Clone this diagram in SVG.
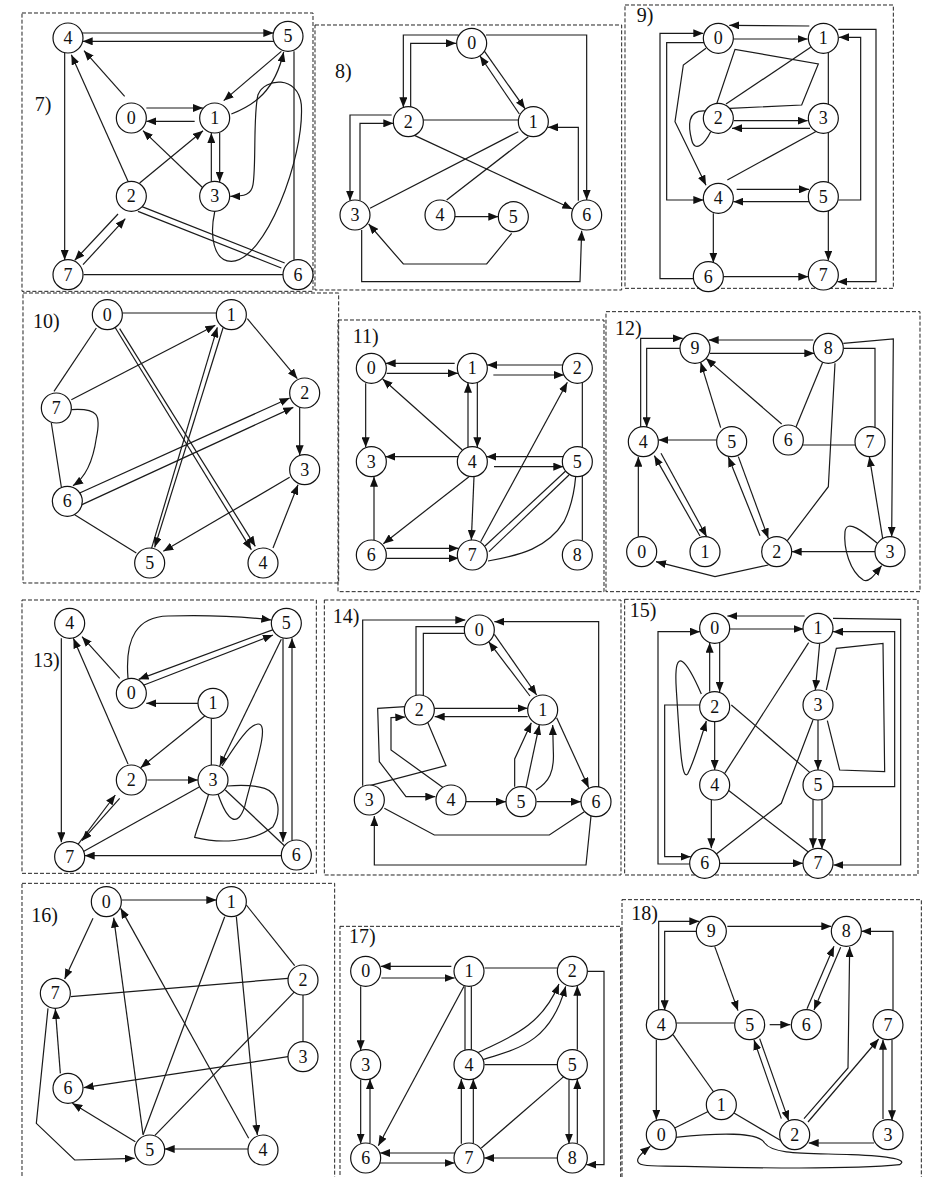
<svg xmlns="http://www.w3.org/2000/svg" width="928" height="1177" viewBox="0 0 928 1177">
<defs>
<marker id="ah" markerUnits="userSpaceOnUse" markerWidth="30" markerHeight="24" refX="30" refY="12" orient="auto" viewBox="0 0 30 24"><path d="M0,0 L30,12 L0,24 z" fill="#111"/></marker>
<style>
.e{fill:none;stroke:#1a1a1a;stroke-width:3.6}
.a{marker-end:url(#ah)}
.node circle{fill:#fff;stroke:#111;stroke-width:3.6}
.node text{font-family:"Liberation Serif","Times New Roman",serif;font-size:54px;text-anchor:middle;fill:#111}
.lbl{font-family:"Liberation Serif","Times New Roman",serif;font-size:60px;text-anchor:middle;fill:#111}
.frame{fill:none;stroke:#222;stroke-width:3;stroke-dasharray:12 6}
</style>
</defs>
<rect width="928" height="1177" fill="#fff"/>

<!-- Panel 7 -->
<g id="panel-7" transform="translate(18,8) scale(0.333333)">
<rect class="frame" x="12" y="15" width="873" height="835"/>
<text class="lbl" x="75" y="310">7)</text>
<g id="p7-edges">
<path class="e a" d="M192,75 L766,75"/>
<path class="e a" d="M768,100 L194,100"/>
<path class="e a" d="M140,134 L140,756"/>
<path class="e a" d="M320,265 L198,128"/>
<path class="e a" d="M330,520 L160,140"/>
<path class="e a" d="M790,130 L617,278"/>
<path class="e a" d="M640,318 C710,290 770,250 797,132"/>
<path class="e a" d="M590,612 C575,680 585,760 640,760 C740,760 860,450 850,290 C840,200 740,210 720,260 C705,320 715,470 705,530 C700,560 680,565 637,565"/>
<path class="e a" d="M385,300 L555,300"/>
<path class="e a" d="M530,340 L385,340"/>
<path class="e a" d="M580,520 L580,375"/>
<path class="e a" d="M605,375 L605,522"/>
<path class="e a" d="M555,540 L375,368"/>
<path class="e a" d="M365,525 L555,368"/>
<path class="e a" d="M195,770 L322,632"/>
<path class="e a" d="M300,618 L170,757"/>
<path class="e" d="M370,595 L800,765"/>
<path class="e" d="M360,610 L790,780"/>
<path class="e" d="M197,800 L795,800"/>
<path class="e" d="M828,130 L828,755"/>
</g>
<g id="p7-n4" class="node"><circle cx="150" cy="90" r="45"/><text x="150" y="108">4</text></g>
<g id="p7-n5" class="node"><circle cx="810" cy="85" r="45"/><text x="810" y="103">5</text></g>
<g id="p7-n0" class="node"><circle cx="340" cy="330" r="45"/><text x="340" y="348">0</text></g>
<g id="p7-n1" class="node"><circle cx="590" cy="330" r="45"/><text x="590" y="348">1</text></g>
<g id="p7-n2" class="node"><circle cx="340" cy="565" r="45"/><text x="340" y="583">2</text></g>
<g id="p7-n3" class="node"><circle cx="590" cy="565" r="45"/><text x="590" y="583">3</text></g>
<g id="p7-n7" class="node"><circle cx="150" cy="800" r="45"/><text x="150" y="818">7</text></g>
<g id="p7-n6" class="node"><circle cx="840" cy="800" r="45"/><text x="840" y="818">6</text></g>
</g>

<!-- Panel 8 -->
<g id="panel-8" transform="translate(310,20) scale(0.333333)">
<rect class="frame" x="15" y="15" width="920" height="795"/>
<text class="lbl" x="100" y="175">8)</text>
<g id="p8-edges">
<path class="e a" d="M302,262 L302,70 L438,70"/>
<path class="e a" d="M445,45 L280,45 L280,262"/>
<path class="e a" d="M522,92 L645,266"/>
<path class="e a" d="M628,282 L510,108"/>
<path class="e a" d="M528,45 L830,45 L830,540"/>
<path class="e a" d="M805,542 L805,322 L714,322"/>
<path class="e" d="M340,300 L625,300"/>
<path class="e a" d="M315,347 L787,567"/>
<path class="e" d="M180,565 L625,335"/>
<path class="e" d="M410,540 L655,350"/>
<path class="e a" d="M435,590 L565,590"/>
<path class="e a" d="M605,640 L530,732 L280,732 L176,612"/>
<path class="e a" d="M155,630 L155,785 L810,785 L815,632"/>
<path class="e a" d="M245,285 L120,285 L120,542"/>
<path class="e a" d="M150,542 L150,310 L250,310"/>
</g>
<g id="p8-n0" class="node"><circle cx="485" cy="70" r="45"/><text x="485" y="88">0</text></g>
<g id="p8-n2" class="node"><circle cx="295" cy="305" r="45"/><text x="295" y="323">2</text></g>
<g id="p8-n1" class="node"><circle cx="670" cy="305" r="45"/><text x="670" y="323">1</text></g>
<g id="p8-n3" class="node"><circle cx="135" cy="585" r="45"/><text x="135" y="603">3</text></g>
<g id="p8-n4" class="node"><circle cx="390" cy="585" r="45"/><text x="390" y="603">4</text></g>
<g id="p8-n5" class="node"><circle cx="610" cy="590" r="45"/><text x="610" y="608">5</text></g>
<g id="p8-n6" class="node"><circle cx="830" cy="585" r="45"/><text x="830" y="603">6</text></g>
</g>

<!-- Panel 9 -->
<g id="panel-9" transform="translate(620,0) scale(0.333333)">
<rect class="frame" x="15" y="15" width="805" height="850"/>
<text class="lbl" x="75" y="65">9)</text>
<g id="p9-edges">
<path class="e a" d="M568,78 L328,76"/>
<path class="e a" d="M340,117 L563,117"/>
<path class="e a" d="M222,836 L120,836 L120,100 L250,100"/>
<path class="e a" d="M252,128 L140,128 L140,600 L250,600"/>
<path class="e a" d="M258,145 L190,195 L165,365 L258,556"/>
<path class="e a" d="M655,88 L768,88 L768,845 L652,845"/>
<path class="e a" d="M655,600 L722,600 L722,112 L657,112"/>
<path class="e" d="M625,158 L625,312"/>
<path class="e" d="M625,398 L625,546"/>
<path class="e" d="M572,142 L318,312"/>
<path class="e" d="M290,312 L345,148 L595,192 L545,315 L330,325"/>
<path class="e" d="M255,333 C200,330 205,380 215,420 C225,460 255,430 272,395"/>
<path class="e a" d="M342,362 L563,362"/>
<path class="e a" d="M570,385 L336,385"/>
<path class="e" d="M592,392 L322,540"/>
<path class="e a" d="M350,568 L567,568"/>
<path class="e a" d="M568,605 L340,605"/>
<path class="e a" d="M280,640 L280,788"/>
<path class="e a" d="M625,633 L625,782"/>
<path class="e a" d="M310,830 L565,830"/>
</g>
<g id="p9-n0" class="node"><circle cx="295" cy="115" r="45"/><text x="295" y="133">0</text></g>
<g id="p9-n1" class="node"><circle cx="610" cy="115" r="45"/><text x="610" y="133">1</text></g>
<g id="p9-n2" class="node"><circle cx="295" cy="355" r="45"/><text x="295" y="373">2</text></g>
<g id="p9-n3" class="node"><circle cx="610" cy="355" r="45"/><text x="610" y="373">3</text></g>
<g id="p9-n4" class="node"><circle cx="295" cy="595" r="45"/><text x="295" y="613">4</text></g>
<g id="p9-n5" class="node"><circle cx="610" cy="590" r="45"/><text x="610" y="608">5</text></g>
<g id="p9-n6" class="node"><circle cx="265" cy="830" r="45"/><text x="265" y="848">6</text></g>
<g id="p9-n7" class="node"><circle cx="610" cy="825" r="45"/><text x="610" y="843">7</text></g>
</g>

<!-- Panel 10 -->
<g id="panel-10" transform="translate(18,288) scale(0.333333)">
<rect class="frame" x="15" y="15" width="947" height="870"/>
<text class="lbl" x="85" y="120">10)</text>
<g id="p10-edges">
<path class="e" d="M313,75 L595,75"/>
<path class="e a" d="M688,92 L838,272"/>
<path class="e a" d="M845,358 L845,502"/>
<path class="e a" d="M765,780 L840,590"/>
<path class="e a" d="M815,568 L436,790"/>
<path class="e a" d="M285,108 L700,785"/>
<path class="e a" d="M305,122 L712,775"/>
<path class="e a" d="M398,790 L598,118"/>
<path class="e a" d="M615,120 L410,778"/>
<path class="e a" d="M160,335 L592,112"/>
<path class="e a" d="M185,615 L815,330"/>
<path class="e a" d="M192,650 L826,358"/>
<path class="e" d="M108,310 L235,120"/>
<path class="e" d="M100,405 L130,597"/>
<path class="e a" d="M160,365 C240,360 250,380 235,450 C225,520 200,570 165,593"/>
<path class="e" d="M170,680 L355,795"/>
</g>
<g id="p10-n0" class="node"><circle cx="268" cy="80" r="45"/><text x="268" y="98">0</text></g>
<g id="p10-n1" class="node"><circle cx="640" cy="80" r="45"/><text x="640" y="98">1</text></g>
<g id="p10-n2" class="node"><circle cx="860" cy="315" r="45"/><text x="860" y="333">2</text></g>
<g id="p10-n3" class="node"><circle cx="860" cy="545" r="45"/><text x="860" y="563">3</text></g>
<g id="p10-n4" class="node"><circle cx="735" cy="825" r="45"/><text x="735" y="843">4</text></g>
<g id="p10-n5" class="node"><circle cx="395" cy="825" r="45"/><text x="395" y="843">5</text></g>
<g id="p10-n6" class="node"><circle cx="148" cy="640" r="45"/><text x="148" y="658">6</text></g>
<g id="p10-n7" class="node"><circle cx="115" cy="360" r="45"/><text x="115" y="378">7</text></g>
</g>

<!-- Panel 11 -->
<g id="panel-11" transform="translate(334,315) scale(0.333333)">
<rect class="frame" x="12" y="15" width="798" height="815"/>
<text class="lbl" x="95" y="85">11)</text>
<g id="p11-edges">
<path class="e a" d="M362,145 L155,145"/>
<path class="e a" d="M158,175 L372,175"/>
<path class="e a" d="M688,150 L459,150"/>
<path class="e a" d="M478,180 L690,180"/>
<path class="e a" d="M95,205 L95,397"/>
<path class="e a" d="M385,405 L146,192"/>
<path class="e a" d="M402,396 L402,203"/>
<path class="e a" d="M430,203 L430,397"/>
<path class="e a" d="M372,425 L154,425"/>
<path class="e a" d="M688,425 L457,425"/>
<path class="e a" d="M480,455 L688,455"/>
<path class="e" d="M745,203 L745,397"/>
<path class="e" d="M745,483 L745,677"/>
<path class="e a" d="M405,485 L148,686"/>
<path class="e a" d="M420,485 L412,675"/>
<path class="e a" d="M120,675 L120,485"/>
<path class="e a" d="M157,700 L374,700"/>
<path class="e a" d="M157,730 L374,730"/>
<path class="e a" d="M440,680 L700,202"/>
<path class="e" d="M453,693 L695,468"/>
<path class="e" d="M465,710 L705,480"/>
<path class="e" d="M462,738 C560,720 640,700 690,620 C715,570 722,520 725,485"/>
</g>
<g id="p11-n0" class="node"><circle cx="112" cy="160" r="45"/><text x="112" y="178">0</text></g>
<g id="p11-n1" class="node"><circle cx="415" cy="160" r="45"/><text x="415" y="178">1</text></g>
<g id="p11-n2" class="node"><circle cx="730" cy="160" r="45"/><text x="730" y="178">2</text></g>
<g id="p11-n3" class="node"><circle cx="112" cy="440" r="45"/><text x="112" y="458">3</text></g>
<g id="p11-n4" class="node"><circle cx="415" cy="440" r="45"/><text x="415" y="458">4</text></g>
<g id="p11-n5" class="node"><circle cx="730" cy="440" r="45"/><text x="730" y="458">5</text></g>
<g id="p11-n6" class="node"><circle cx="112" cy="720" r="45"/><text x="112" y="738">6</text></g>
<g id="p11-n7" class="node"><circle cx="415" cy="720" r="45"/><text x="415" y="738">7</text></g>
<g id="p11-n8" class="node"><circle cx="730" cy="720" r="45"/><text x="730" y="738">8</text></g>
</g>

<!-- Panel 12 -->
<g id="panel-12" transform="translate(600,305) scale(0.333333)">
<rect class="frame" x="18" y="20" width="942" height="840"/>
<text class="lbl" x="85" y="90">12)</text>
<g id="p12-edges">
<path class="e a" d="M640,105 L326,105"/>
<path class="e a" d="M330,145 L643,145"/>
<path class="e a" d="M122,367 L122,100 L248,100"/>
<path class="e a" d="M243,130 L140,130 L140,367"/>
<path class="e a" d="M362,368 L302,172"/>
<path class="e a" d="M545,357 L318,160"/>
<path class="e" d="M668,172 L588,366"/>
<path class="e a" d="M730,115 L880,102 L875,695"/>
<path class="e" d="M732,130 L825,130 L825,367"/>
<path class="e" d="M705,175 L685,545 L562,707"/>
<path class="e a" d="M350,405 L175,405"/>
<path class="e" d="M608,420 L766,420"/>
<path class="e a" d="M115,695 L115,455"/>
<path class="e a" d="M300,693 L163,452"/>
<path class="e a" d="M183,445 L320,695"/>
<path class="e a" d="M480,692 L385,456"/>
<path class="e a" d="M415,455 L505,700"/>
<path class="e a" d="M825,740 L575,740"/>
<path class="e a" d="M848,700 L808,455"/>
<path class="e a" d="M505,780 L345,815 L168,770"/>
<path class="e a" d="M832,715 C790,680 740,640 735,680 C730,730 750,800 790,825 C810,835 830,800 845,782"/>
</g>
<g id="p12-n9" class="node"><circle cx="285" cy="130" r="45"/><text x="285" y="148">9</text></g>
<g id="p12-n8" class="node"><circle cx="685" cy="130" r="45"/><text x="685" y="148">8</text></g>
<g id="p12-n4" class="node"><circle cx="130" cy="410" r="45"/><text x="130" y="428">4</text></g>
<g id="p12-n5" class="node"><circle cx="395" cy="410" r="45"/><text x="395" y="428">5</text></g>
<g id="p12-n6" class="node"><circle cx="565" cy="405" r="45"/><text x="565" y="423">6</text></g>
<g id="p12-n7" class="node"><circle cx="810" cy="410" r="45"/><text x="810" y="428">7</text></g>
<g id="p12-n0" class="node"><circle cx="125" cy="740" r="45"/><text x="125" y="758">0</text></g>
<g id="p12-n1" class="node"><circle cx="315" cy="740" r="45"/><text x="315" y="758">1</text></g>
<g id="p12-n2" class="node"><circle cx="530" cy="740" r="45"/><text x="530" y="758">2</text></g>
<g id="p12-n3" class="node"><circle cx="870" cy="740" r="45"/><text x="870" y="758">3</text></g>
</g>

<!-- Panel 13 -->
<g id="panel-13" transform="translate(18,590) scale(0.333333)">
<rect class="frame" x="12" y="30" width="883" height="820"/>
<text class="lbl" x="85" y="230">13)</text>
<g id="p13-edges">
<path class="e a" d="M130,145 L130,757"/>
<path class="e a" d="M305,265 L192,140"/>
<path class="e a" d="M330,522 L166,145"/>
<path class="e a" d="M330,265 C320,140 360,80 450,78 C560,75 680,80 760,90"/>
<path class="e a" d="M768,118 L362,268"/>
<path class="e a" d="M378,285 L765,135"/>
<path class="e a" d="M540,340 L385,340"/>
<path class="e a" d="M560,378 L368,533"/>
<path class="e" d="M580,385 L580,525"/>
<path class="e a" d="M388,570 L540,570"/>
<path class="e a" d="M790,148 L605,528"/>
<path class="e a" d="M795,145 L795,755"/>
<path class="e a" d="M822,752 L822,145"/>
<path class="e a" d="M790,797 L200,797"/>
<path class="e" d="M545,590 L195,785"/>
<path class="e" d="M622,600 L800,768"/>
<path class="e a" d="M175,770 L292,615"/>
<path class="e a" d="M305,625 L192,752"/>
<path class="e" d="M600,612 C630,700 660,710 680,650 C700,560 760,400 720,402 C690,405 650,470 612,528"/>
<path class="e" d="M572,612 C555,670 535,720 530,742 C600,760 700,760 765,710 C790,670 785,610 740,595 C700,583 660,585 628,588"/>
</g>
<g id="p13-n4" class="node"><circle cx="155" cy="100" r="45"/><text x="155" y="118">4</text></g>
<g id="p13-n5" class="node"><circle cx="805" cy="100" r="45"/><text x="805" y="118">5</text></g>
<g id="p13-n0" class="node"><circle cx="340" cy="310" r="45"/><text x="340" y="328">0</text></g>
<g id="p13-n1" class="node"><circle cx="585" cy="340" r="45"/><text x="585" y="358">1</text></g>
<g id="p13-n2" class="node"><circle cx="340" cy="570" r="45"/><text x="340" y="588">2</text></g>
<g id="p13-n3" class="node"><circle cx="585" cy="570" r="45"/><text x="585" y="588">3</text></g>
<g id="p13-n7" class="node"><circle cx="155" cy="800" r="45"/><text x="155" y="818">7</text></g>
<g id="p13-n6" class="node"><circle cx="835" cy="795" r="45"/><text x="835" y="813">6</text></g>
</g>

<!-- Panel 14 -->
<g id="panel-14" transform="translate(316,595) scale(0.333333)">
<rect class="frame" x="25" y="15" width="890" height="825"/>
<text class="lbl" x="90" y="85">14)</text>
<g id="p14-edges">
<path class="e a" d="M140,572 L140,75 L448,75"/>
<path class="e a" d="M848,576 L848,80 L535,80"/>
<path class="e" d="M300,302 L300,95 L447,95"/>
<path class="e" d="M322,302 L322,115 L450,115"/>
<path class="e a" d="M535,118 L662,300"/>
<path class="e a" d="M642,303 L518,140"/>
<path class="e a" d="M355,340 L635,340"/>
<path class="e a" d="M635,365 L356,365"/>
<path class="e a" d="M722,368 L818,578"/>
<path class="e a" d="M596,575 L596,492 L646,383"/>
<path class="e a" d="M630,577 L670,390"/>
<path class="e a" d="M660,585 C700,560 715,530 712,470 L710,390"/>
<path class="e a" d="M450,620 L570,620"/>
<path class="e a" d="M662,620 L795,620"/>
<path class="e a" d="M268,335 L185,340 L190,500 L270,605 L358,605"/>
<path class="e a" d="M382,578 L225,465 L225,368 L268,366"/>
<path class="e" d="M335,382 L390,512 L150,575"/>
<path class="e" d="M205,640 L355,720 L700,720 L805,650"/>
<path class="e a" d="M825,663 L810,810 L175,810 L175,663"/>
</g>
<g id="p14-n0" class="node"><circle cx="490" cy="105" r="45"/><text x="490" y="123">0</text></g>
<g id="p14-n2" class="node"><circle cx="310" cy="345" r="45"/><text x="310" y="363">2</text></g>
<g id="p14-n1" class="node"><circle cx="680" cy="345" r="45"/><text x="680" y="363">1</text></g>
<g id="p14-n3" class="node"><circle cx="160" cy="615" r="45"/><text x="160" y="633">3</text></g>
<g id="p14-n4" class="node"><circle cx="405" cy="615" r="45"/><text x="405" y="633">4</text></g>
<g id="p14-n5" class="node"><circle cx="615" cy="620" r="45"/><text x="615" y="638">5</text></g>
<g id="p14-n6" class="node"><circle cx="840" cy="620" r="45"/><text x="840" y="638">6</text></g>
</g>

<!-- Panel 15 -->
<g id="panel-15" transform="translate(618,590) scale(0.333333)">
<rect class="frame" x="20" y="28" width="880" height="827"/>
<text class="lbl" x="75" y="80">15)</text>
<g id="p15-edges">
<path class="e a" d="M560,78 L328,78"/>
<path class="e a" d="M335,117 L557,117"/>
<path class="e a" d="M215,822 L120,822 L120,125 L246,125"/>
<path class="e a" d="M245,345 L140,345 L140,800 L218,800"/>
<path class="e a" d="M275,305 L275,158"/>
<path class="e a" d="M305,158 L305,306"/>
<path class="e a" d="M250,312 C210,220 165,150 175,300 C185,450 190,580 210,550 C230,510 250,440 265,393"/>
<path class="e a" d="M290,395 L290,540"/>
<path class="e" d="M340,345 L575,547"/>
<path class="e" d="M572,158 L320,550"/>
<path class="e a" d="M605,160 L592,300"/>
<path class="e a" d="M645,85 L848,88 L848,825 L646,825"/>
<path class="e a" d="M645,590 L830,590 L830,125 L645,125"/>
<path class="e" d="M625,300 L655,175 L795,160 L800,545 L665,540 L628,392"/>
<path class="e a" d="M600,390 L600,540"/>
<path class="e" d="M585,390 L490,640 L295,792"/>
<path class="e a" d="M280,630 L280,775"/>
<path class="e" d="M330,600 L572,787"/>
<path class="e a" d="M585,628 L585,775"/>
<path class="e a" d="M612,628 L612,777"/>
<path class="e a" d="M305,820 L555,820"/>
</g>
<g id="p15-n0" class="node"><circle cx="290" cy="115" r="45"/><text x="290" y="133">0</text></g>
<g id="p15-n1" class="node"><circle cx="600" cy="115" r="45"/><text x="600" y="133">1</text></g>
<g id="p15-n2" class="node"><circle cx="290" cy="350" r="45"/><text x="290" y="368">2</text></g>
<g id="p15-n3" class="node"><circle cx="600" cy="345" r="45"/><text x="600" y="363">3</text></g>
<g id="p15-n4" class="node"><circle cx="290" cy="585" r="45"/><text x="290" y="603">4</text></g>
<g id="p15-n5" class="node"><circle cx="600" cy="585" r="45"/><text x="600" y="603">5</text></g>
<g id="p15-n6" class="node"><circle cx="260" cy="820" r="45"/><text x="260" y="838">6</text></g>
<g id="p15-n7" class="node"><circle cx="600" cy="820" r="45"/><text x="600" y="838">7</text></g>
</g>

<!-- Panel 16 -->
<g id="panel-16" transform="translate(18,875) scale(0.333333)">
<rect class="frame" x="12" y="25" width="938" height="905"/>
<text class="lbl" x="80" y="140">16)</text>
<g id="p16-edges">
<path class="e a" d="M312,75 L595,75"/>
<path class="e a" d="M225,130 L140,312"/>
<path class="e" d="M685,90 L830,272"/>
<path class="e" d="M855,360 L855,500"/>
<path class="e" d="M158,365 L810,310"/>
<path class="e a" d="M655,125 L718,780"/>
<path class="e" d="M620,125 L375,780"/>
<path class="e" d="M830,350 L410,782"/>
<path class="e a" d="M810,545 L197,638"/>
<path class="e a" d="M375,778 L287,128"/>
<path class="e a" d="M692,790 L308,100"/>
<path class="e a" d="M127,595 L112,402"/>
<path class="e a" d="M352,800 L163,685"/>
<path class="e a" d="M690,822 L440,822"/>
<path class="e a" d="M90,400 L55,745 L170,855 L350,850"/>
</g>
<g id="p16-n0" class="node"><circle cx="265" cy="80" r="45"/><text x="265" y="98">0</text></g>
<g id="p16-n1" class="node"><circle cx="640" cy="80" r="45"/><text x="640" y="98">1</text></g>
<g id="p16-n2" class="node"><circle cx="855" cy="315" r="45"/><text x="855" y="333">2</text></g>
<g id="p16-n3" class="node"><circle cx="855" cy="545" r="45"/><text x="855" y="563">3</text></g>
<g id="p16-n7" class="node"><circle cx="112" cy="355" r="45"/><text x="112" y="373">7</text></g>
<g id="p16-n6" class="node"><circle cx="150" cy="640" r="45"/><text x="150" y="658">6</text></g>
<g id="p16-n5" class="node"><circle cx="395" cy="825" r="45"/><text x="395" y="843">5</text></g>
<g id="p16-n4" class="node"><circle cx="735" cy="825" r="45"/><text x="735" y="843">4</text></g>
</g>

<!-- Panel 17 -->
<g id="panel-17" transform="translate(334,918) scale(0.333333)">
<rect class="frame" x="18" y="25" width="842" height="800"/>
<text class="lbl" x="85" y="75">17)</text>
<g id="p17-edges">
<path class="e a" d="M352,145 L140,145"/>
<path class="e a" d="M142,180 L362,180"/>
<path class="e" d="M452,150 L670,150"/>
<path class="e a" d="M760,160 L810,160 L810,740 L757,740"/>
<path class="e a" d="M80,205 L80,397"/>
<path class="e a" d="M390,205 L133,683"/>
<path class="e" d="M393,205 L393,395"/>
<path class="e" d="M412,205 L412,395"/>
<path class="e a" d="M430,405 C520,360 620,330 675,198"/>
<path class="e a" d="M445,425 C560,390 650,370 695,205"/>
<path class="e" d="M452,440 L670,440"/>
<path class="e a" d="M730,395 L730,203"/>
<path class="e a" d="M80,485 L80,677"/>
<path class="e a" d="M108,675 L108,483"/>
<path class="e a" d="M382,677 L382,483"/>
<path class="e a" d="M418,677 L418,483"/>
<path class="e" d="M690,475 L442,690"/>
<path class="e a" d="M705,485 L705,677"/>
<path class="e a" d="M730,677 L730,483"/>
<path class="e a" d="M365,705 L138,705"/>
<path class="e a" d="M138,735 L362,735"/>
<path class="e a" d="M670,720 L450,720"/>
</g>
<g id="p17-n0" class="node"><circle cx="95" cy="160" r="45"/><text x="95" y="178">0</text></g>
<g id="p17-n1" class="node"><circle cx="405" cy="160" r="45"/><text x="405" y="178">1</text></g>
<g id="p17-n2" class="node"><circle cx="715" cy="160" r="45"/><text x="715" y="178">2</text></g>
<g id="p17-n3" class="node"><circle cx="95" cy="440" r="45"/><text x="95" y="458">3</text></g>
<g id="p17-n4" class="node"><circle cx="405" cy="440" r="45"/><text x="405" y="458">4</text></g>
<g id="p17-n5" class="node"><circle cx="715" cy="440" r="45"/><text x="715" y="458">5</text></g>
<g id="p17-n6" class="node"><circle cx="95" cy="720" r="45"/><text x="95" y="738">6</text></g>
<g id="p17-n7" class="node"><circle cx="405" cy="720" r="45"/><text x="405" y="738">7</text></g>
<g id="p17-n8" class="node"><circle cx="715" cy="720" r="45"/><text x="715" y="738">8</text></g>
</g>

<!-- Panel 18 -->
<g id="panel-18" transform="translate(618,888) scale(0.333333)">
<rect class="frame" x="12" y="35" width="898" height="895"/>
<text class="lbl" x="80" y="95">18)</text>
<g id="p18-edges">
<path class="e a" d="M122,367 L122,100 L244,100"/>
<path class="e a" d="M240,130 L140,130 L140,367"/>
<path class="e a" d="M328,115 L640,115"/>
<path class="e a" d="M290,175 L360,368"/>
<path class="e a" d="M825,367 L825,130 L730,130"/>
<path class="e a" d="M567,362 L648,175"/>
<path class="e a" d="M668,178 L588,366"/>
<path class="e a" d="M558,692 L690,540 L695,177"/>
<path class="e" d="M175,405 L350,405"/>
<path class="e a" d="M455,410 L517,410"/>
<path class="e a" d="M115,455 L115,695"/>
<path class="e" d="M165,440 L287,612"/>
<path class="e" d="M275,668 L170,720"/>
<path class="e" d="M348,675 L492,760"/>
<path class="e a" d="M425,452 L512,698"/>
<path class="e a" d="M490,692 L408,456"/>
<path class="e a" d="M570,702 L782,453"/>
<path class="e a" d="M822,455 L822,697"/>
<path class="e a" d="M795,693 L795,455"/>
<path class="e a" d="M768,765 L572,765"/>
<path class="e a" d="M172,748 C300,735 420,730 440,765 C465,800 560,795 700,800 C820,805 870,815 845,830 C700,845 400,840 200,835 C110,832 50,840 60,812 C65,800 80,788 97,775"/>
</g>
<g id="p18-n9" class="node"><circle cx="280" cy="130" r="45"/><text x="280" y="148">9</text></g>
<g id="p18-n8" class="node"><circle cx="685" cy="130" r="45"/><text x="685" y="148">8</text></g>
<g id="p18-n4" class="node"><circle cx="130" cy="410" r="45"/><text x="130" y="428">4</text></g>
<g id="p18-n5" class="node"><circle cx="395" cy="410" r="45"/><text x="395" y="428">5</text></g>
<g id="p18-n6" class="node"><circle cx="565" cy="410" r="45"/><text x="565" y="428">6</text></g>
<g id="p18-n7" class="node"><circle cx="810" cy="410" r="45"/><text x="810" y="428">7</text></g>
<g id="p18-n1" class="node"><circle cx="310" cy="650" r="45"/><text x="310" y="668">1</text></g>
<g id="p18-n0" class="node"><circle cx="130" cy="740" r="45"/><text x="130" y="758">0</text></g>
<g id="p18-n2" class="node"><circle cx="530" cy="740" r="45"/><text x="530" y="758">2</text></g>
<g id="p18-n3" class="node"><circle cx="810" cy="740" r="45"/><text x="810" y="758">3</text></g>
</g>
</svg>
